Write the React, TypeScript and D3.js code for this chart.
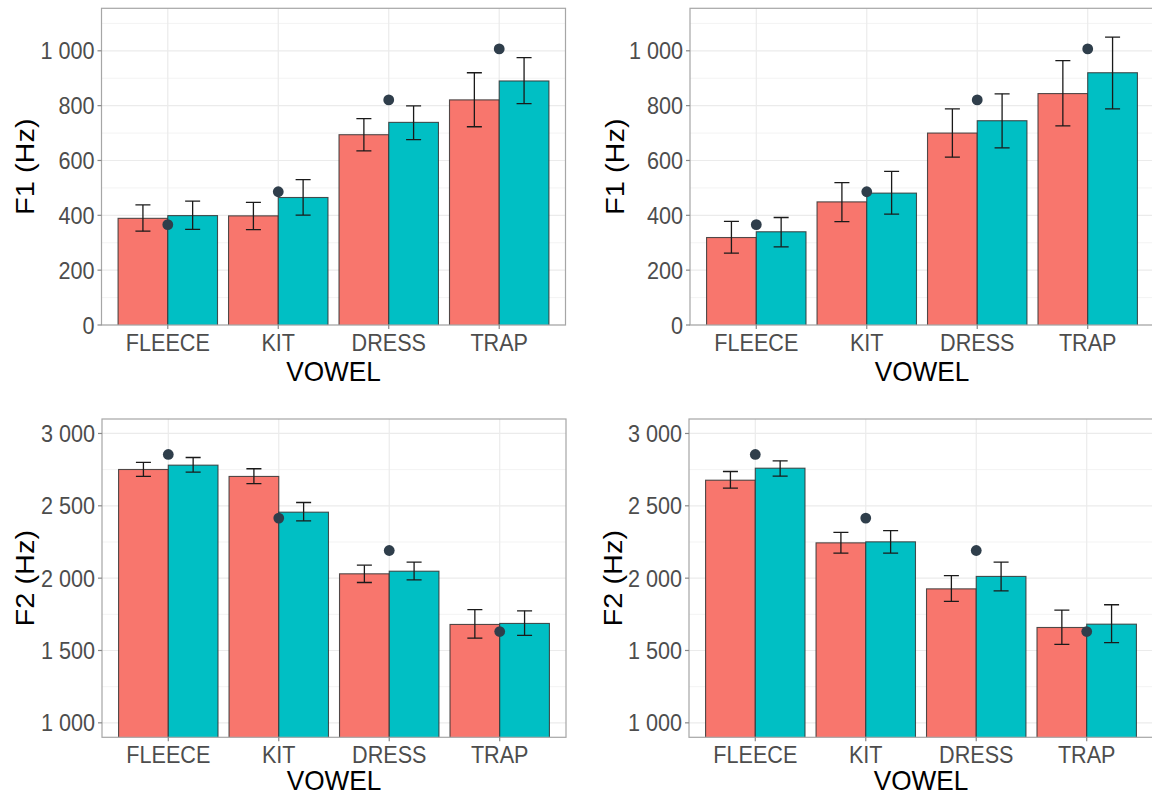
import React from "react";
import * as d3 from "d3";

const categories = ["FLEECE", "KIT", "DRESS", "TRAP"];

// Reference (dot) values
const refF1 = [366, 486, 821, 1007];
const refF2 = [2855, 2415, 2191, 1631];

// Top-left panel (F1)
const tlRedMean = [389, 398, 694, 821];
const tlRedLo = [342, 348, 635, 723];
const tlRedHi = [438, 447, 753, 920];
const tlTealMean = [399, 465, 739, 890];
const tlTealLo = [349, 401, 676, 807];
const tlTealHi = [452, 530, 799, 975];

// Top-right panel (F1)
const trRedMean = [319, 449, 700, 844];
const trRedLo = [262, 377, 612, 726];
const trRedHi = [378, 519, 788, 964];
const trTealMean = [340, 481, 745, 920];
const trTealLo = [285, 404, 646, 788];
const trTealHi = [392, 560, 843, 1050];

// Bottom-left panel (F2)
const blRedMean = [2751, 2703, 2030, 1680];
const blRedLo = [2703, 2654, 1970, 1585];
const blRedHi = [2800, 2756, 2090, 1783];
const blTealMean = [2781, 2456, 2048, 1687];
const blTealLo = [2733, 2396, 1988, 1604];
const blTealHi = [2834, 2523, 2111, 1774];

// Bottom-right panel (F2)
const brRedMean = [2677, 2244, 1926, 1659];
const brRedLo = [2622, 2173, 1839, 1542];
const brRedHi = [2737, 2316, 2018, 1779];
const brTealMean = [2760, 2251, 2012, 1682];
const brTealLo = [2705, 2173, 1912, 1555];
const brTealHi = [2811, 2329, 2111, 1816];

const f1Ticks = [0, 200, 400, 600, 800, 1000];
const f1Minor = [100, 300, 500, 700, 900, 1100];
const f2Ticks = [1000, 1500, 2000, 2500, 3000];
const f2Minor = [1250, 1750, 2250, 2750];

const RED = "#F8766D";
const TEAL = "#00BFC4";
const FONT = "'Liberation Sans', Arial, sans-serif";

const fmt = d3.formatLocale({ thousands: " ", grouping: [3], decimal: ".", currency: ["", ""] }).format(",");

type PanelProps = {
  id: string;
  x0: number; x1: number; y0: number; y1: number;
  domain: [number, number];
  ticks: number[]; minor: number[];
  title: string; titleX: number; xTitleOff: number;
  red: number[][]; teal: number[][];
  ref: number[];
};

function Panel(p: PanelProps) {
  const x = d3.scaleLinear().domain([0.4, categories.length + 0.6]).range([p.x0, p.x1]);
  const y = d3.scaleLinear().domain(p.domain).range([p.y1, p.y0]);
  const unit = x(1) - x(0);
  const barW = 0.45 * unit;
  const capHalf = 0.068 * unit;
  const series = [
    { vals: p.red, color: RED, off: -0.225 },
    { vals: p.teal, color: TEAL, off: 0.225 },
  ];
  const cy = (p.y0 + p.y1) / 2;
  const cx = (p.x0 + p.x1) / 2;
  return (
    <g>
      <defs>
        <clipPath id={p.id}>
          <rect x={p.x0} y={p.y0} width={p.x1 - p.x0} height={p.y1 - p.y0} />
        </clipPath>
      </defs>
      <rect x={p.x0} y={p.y0} width={p.x1 - p.x0} height={p.y1 - p.y0} fill="#fff" />
      {p.minor.map((v) => (
        <line key={"mn" + v} x1={p.x0} x2={p.x1} y1={y(v)} y2={y(v)} stroke="#F3F3F3" strokeWidth={1} />
      ))}
      {p.ticks.map((v) => (
        <line key={"mj" + v} x1={p.x0} x2={p.x1} y1={y(v)} y2={y(v)} stroke="#EBEBEB" strokeWidth={1.2} />
      ))}
      {categories.map((c, i) => (
        <line key={"vg" + c} x1={x(i + 1)} x2={x(i + 1)} y1={p.y0} y2={p.y1} stroke="#EBEBEB" strokeWidth={1.2} />
      ))}
      <g clipPath={`url(#${p.id})`}>
        {series.map((s, si) =>
          categories.map((c, i) => {
            const left = x(i + 1 + s.off) - barW / 2;
            const top = y(s.vals[0][i]);
            const bottom = y(Math.max(p.domain[0], 0)) + 2;
            return (
              <rect key={`b${si}${i}`} x={left} y={top} width={barW} height={bottom - top}
                fill={s.color} stroke="#333" strokeOpacity={0.85} strokeWidth={1.1} />
            );
          })
        )}
        {series.map((s, si) =>
          categories.map((c, i) => {
            const xc = x(i + 1 + s.off);
            const lo = y(s.vals[1][i]);
            const hi = y(s.vals[2][i]);
            return (
              <g key={`e${si}${i}`} stroke="#1a1a1a" strokeWidth={1.3}>
                <line x1={xc} x2={xc} y1={lo} y2={hi} />
                <line x1={xc - capHalf} x2={xc + capHalf} y1={lo} y2={lo} />
                <line x1={xc - capHalf} x2={xc + capHalf} y1={hi} y2={hi} />
              </g>
            );
          })
        )}
        {categories.map((c, i) => (
          <circle key={"d" + c} cx={x(i + 1)} cy={y(p.ref[i])} r={5.4} fill="#2F3E4B" />
        ))}
      </g>
      <rect x={p.x0} y={p.y0} width={p.x1 - p.x0} height={p.y1 - p.y0} fill="none" stroke="#A6A6A6" strokeWidth={1.2} />
      {p.ticks.map((v) => (
        <g key={"t" + v}>
          <line x1={p.x0 - 4} x2={p.x0} y1={y(v)} y2={y(v)} stroke="#888" strokeWidth={1.2} />
          <text transform={`translate(${p.x0 - 7},${y(v) + 8.5}) scale(0.9,1)`} textAnchor="end"
            fontFamily={FONT} fontSize={24} fill="#4D4D4D">{fmt(v)}</text>
        </g>
      ))}
      {categories.map((c, i) => (
        <g key={"xt" + c}>
          <line x1={x(i + 1)} x2={x(i + 1)} y1={p.y1} y2={p.y1 + 4} stroke="#888" strokeWidth={1.2} />
          <text transform={`translate(${x(i + 1)},${p.y1 + 26}) scale(0.9,1)`} textAnchor="middle"
            fontFamily={FONT} fontSize={24} fill="#4D4D4D">{c}</text>
        </g>
      ))}
      <text transform={`translate(${cx},${p.y1 + p.xTitleOff}) scale(0.92,1)`} textAnchor="middle"
        fontFamily={FONT} fontSize={28.5} fill="#000">VOWEL</text>
      <text transform={`translate(${p.titleX},${cy}) rotate(-90) scale(1,0.9)`} textAnchor="middle"
        fontFamily={FONT} fontSize={29} fill="#000">{p.title}</text>
    </g>
  );
}

export default function App() {
  return (
    <svg width={1152} height={796} style={{ position: "absolute", left: 0, top: 0, background: "#fff" }}>
      <rect width={1152} height={796} fill="#fff" />
      <Panel id="cTL" x0={101.5} x1={565.5} y0={8.3} y1={325} domain={[0, 1155]}
        ticks={f1Ticks} minor={f1Minor} title="F1 (Hz)" titleX={34} xTitleOff={56}
        red={[tlRedMean, tlRedLo, tlRedHi]} teal={[tlTealMean, tlTealLo, tlTealHi]} ref={refF1} />
      <Panel id="cTR" x0={690} x1={1154} y0={8.3} y1={325} domain={[0, 1155]}
        ticks={f1Ticks} minor={f1Minor} title="F1 (Hz)" titleX={624} xTitleOff={56}
        red={[trRedMean, trRedLo, trRedHi]} teal={[trTealMean, trTealLo, trTealHi]} ref={refF1} />
      <Panel id="cBL" x0={102} x1={566} y0={419} y1={737.3} domain={[900, 3100]}
        ticks={f2Ticks} minor={f2Minor} title="F2 (Hz)" titleX={34} xTitleOff={52.3}
        red={[blRedMean, blRedLo, blRedHi]} teal={[blTealMean, blTealLo, blTealHi]} ref={refF2} />
      <Panel id="cBR" x0={689} x1={1153} y0={419} y1={737.3} domain={[900, 3100]}
        ticks={f2Ticks} minor={f2Minor} title="F2 (Hz)" titleX={622} xTitleOff={52.3}
        red={[brRedMean, brRedLo, brRedHi]} teal={[brTealMean, brTealLo, brTealHi]} ref={refF2} />
    </svg>
  );
}
